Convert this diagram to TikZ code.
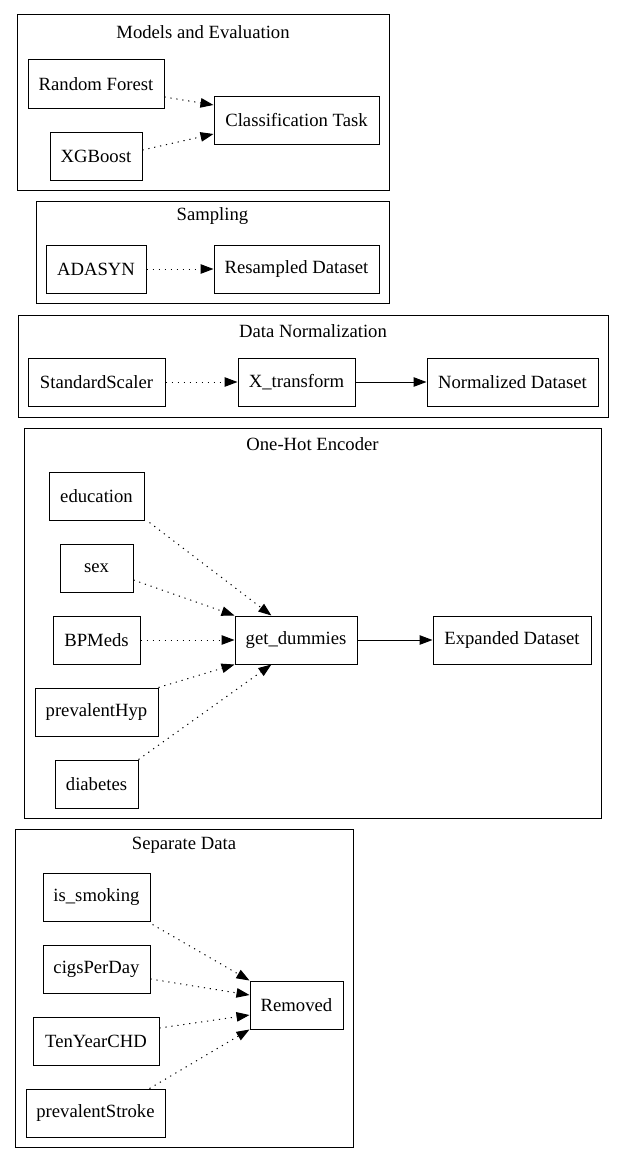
\documentclass[tikz,border=0pt]{standalone}
\usepackage{fontspec}
\setmainfont{Liberation Serif}
\newfontfamily\labelfont{Liberation Serif}
\usetikzlibrary{arrows.meta,calc}
\begin{document}
\begin{tikzpicture}[x=1pt,y=-1pt,
  every node/.style={font=\labelfont\fontsize{18.67}{22}\selectfont},
  box/.style={draw=black,line width=1pt,minimum height=48pt,inner sep=0pt},
  cluster/.style={draw=black,line width=1pt},
  ctitle/.style={inner sep=0pt},
  link/.style={line width=1pt,-{Triangle[length=13pt,width=9.5pt]}},
  dotlink/.style={link,dash pattern=on 1.2pt off 4.8pt}]
\useasboundingbox[fill=white] (0,0) rectangle (624,1164);

% ---- Models and Evaluation
\draw[cluster] (17,15) rectangle (389,190);
\node[ctitle] (t1) at (203,32) {Models and Evaluation};
\node[box,minimum width=136pt] (rf)  at (96,84)  {Random Forest};
\node[box,minimum width=92pt]  (xgb) at (96,156) {XGBoost};
\node[box,minimum width=165pt] (ct)  at (296.5,120) {Classification Task};
\draw[dotlink] ([yshift=-13pt]rf.east) -- ([yshift=15pt]ct.west);
\draw[dotlink] ([yshift=6pt]xgb.east) -- ([yshift=-14pt]ct.west);

% ---- Sampling
\draw[cluster] (36,201) rectangle (389,303);
\node[ctitle] (t2) at (212.5,216) {Sampling};
\node[box,minimum width=100pt] (ada) at (96,269) {ADASYN};
\node[box,minimum width=165pt] (res) at (296.5,269) {Resampled Dataset};
\draw[dotlink] (ada) -- (res);

% ---- Data Normalization
\draw[cluster] (18,315) rectangle (608,417);
\node[ctitle] (t3) at (313,331) {Data Normalization};
\node[box,minimum width=137pt] (ss)  at (96.5,382) {StandardScaler};
\node[box,minimum width=117pt] (xt)  at (296.5,382) {X\_transform};
\node[box,minimum width=171pt] (nd)  at (512.5,382) {Normalized Dataset};
\draw[dotlink] (ss) -- (xt);
\draw[link] (xt) -- (nd);

% ---- One-Hot Encoder
\draw[cluster] (24,428) rectangle (601,818);
\node[ctitle] (t4) at (312.5,444) {One-Hot Encoder};
\node[box,minimum width=95pt]  (edu) at (96.5,496) {education};
\node[box,minimum width=73pt]  (sex) at (96.5,568) {sex};
\node[box,minimum width=87pt]  (bpm) at (96.5,640) {BPMeds};
\node[box,minimum width=123pt] (phy) at (96.5,712) {prevalentHyp};
\node[box,minimum width=83pt]  (dia) at (96.5,784) {diabetes};
\node[box,minimum width=122pt] (gd)  at (296,640) {get\_dummies};
\node[box,minimum width=158pt] (exp) at (512,640) {Expanded Dataset};
\draw[dotlink] ([xshift=5pt,yshift=-2pt]edu.south east) -- ($(gd.north west)!0.3!(gd.north east)$);
\draw[dotlink] ([yshift=-12pt]sex.east) -- (gd.north west);
\draw[dotlink] (bpm.east) -- (gd.west);
\draw[dotlink] (phy.north east) -- (gd.south west);
\draw[dotlink] (dia.north east) -- ($(gd.south west)!0.3!(gd.south east)$);
\draw[link] (gd) -- (exp);

% ---- Separate Data
\draw[cluster] (15,829) rectangle (353,1147);
\node[ctitle] (t5) at (184,845) {Separate Data};
\node[box,minimum width=107pt] (smk) at (96.5,897)  {is\_smoking};
\node[box,minimum width=107pt] (cig) at (96.5,969)  {cigsPerDay};
\node[box,minimum width=126pt] (chd) at (96,1041)   {TenYearCHD};
\node[box,minimum width=139pt] (pst) at (95.5,1113) {prevalentStroke};
\node[box,minimum width=93pt]  (rem) at (296.5,1005) {Removed};
\draw[dotlink] ([xshift=2pt,yshift=-3pt]smk.south east) -- (rem.north west);
\draw[dotlink] ([yshift=-10pt]cig.east) -- ([yshift=10pt]rem.west);
\draw[dotlink] ([yshift=13pt]chd.east) -- ([yshift=-10pt]rem.west);
\draw[dotlink] ([xshift=54pt]pst.north) -- (rem.south west);
\end{tikzpicture}
\end{document}
